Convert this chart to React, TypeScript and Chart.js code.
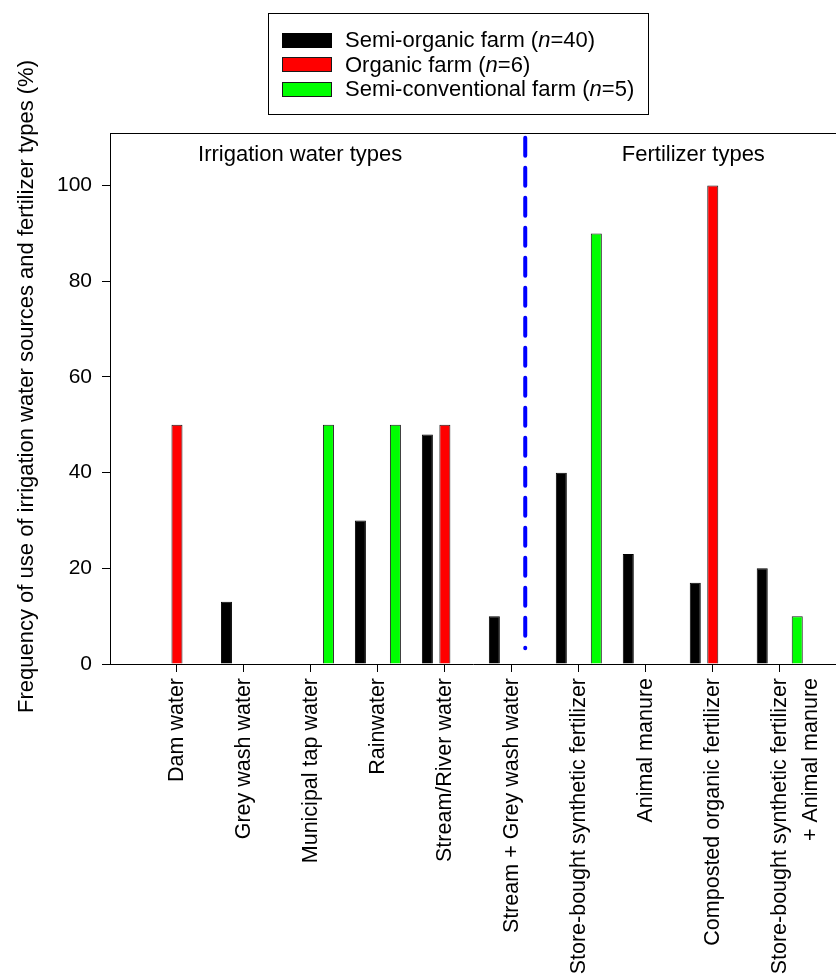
import React, { useEffect, useRef } from "react";
import { Chart, registerables } from "chart.js";

Chart.register(...registerables);

const FONT = "'Liberation Sans', Arial, Helvetica, sans-serif";

const categories: (string | string[])[] = [
  "Dam water",
  "Grey wash water",
  "Municipal tap water",
  "Rainwater",
  "Stream/River water",
  "Stream + Grey wash water",
  "Store-bought synthetic fertilizer",
  "Animal manure",
  "Composted organic fertilizer",
  ["Store-bought synthetic fertilizer", "+ Animal manure"],
];

const seriesNames = ["Semi-organic farm", "Organic farm", "Semi-conventional farm"];
const seriesN = [40, 6, 5];
const seriesColors = ["#000000", "#ff0000", "#00ff00"];
const seriesBorders = ["#000000", "#1a1a1a", "#1a1a1a"];

const semiOrganic = [null, 13, null, 30, 48, 10, 40, 23, 17, 20];
const organic = [50, null, null, null, 50, null, null, null, 100, null];
const semiConventional = [null, null, 50, 50, null, null, 90, null, null, 10];
const seriesValues = [semiOrganic, organic, semiConventional];

const yTicks = [0, 20, 40, 60, 80, 100];
const yMin = 0;
const yMax = 111;
const xMin = -1;
const xMax = 9.84;

const dividerX = 5.2;
const dividerTop = 110;
const dividerBottom = 3.3;

const sectionLabels = [
  { text: "Irrigation water types", x: 1.84, y: 106.4 },
  { text: "Fertilizer types", x: 7.71, y: 106.4 },
];

const yTitle = "Frequency of use of irrigation water sources and fertilizer types (%)";

const overlayPlugin = {
  id: "overlay",
  afterDatasetsDraw(chart: any) {
    const { ctx, chartArea, scales } = chart;
    const x = scales.x;
    const y = scales.y;
    ctx.save();
    // top frame line
    ctx.strokeStyle = "#000";
    ctx.lineWidth = 1;
    ctx.beginPath();
    ctx.moveTo(chartArea.left, chartArea.top + 0.5);
    ctx.lineTo(chartArea.right, chartArea.top + 0.5);
    ctx.stroke();

    // divider
    const dx = x.getPixelForValue(dividerX);
    ctx.strokeStyle = "#0000ff";
    ctx.lineWidth = 4;
    ctx.lineCap = "round";
    ctx.setLineDash([18, 12]);
    ctx.beginPath();
    ctx.moveTo(dx, y.getPixelForValue(dividerTop));
    ctx.lineTo(dx, y.getPixelForValue(dividerBottom));
    ctx.stroke();
    ctx.setLineDash([]);

    // section labels
    ctx.fillStyle = "#000";
    ctx.font = `22px ${FONT}`;
    ctx.textAlign = "center";
    ctx.textBaseline = "middle";
    for (const s of sectionLabels) {
      ctx.fillText(s.text, x.getPixelForValue(s.x), y.getPixelForValue(s.y));
    }

    // y title
    ctx.translate(27, (chartArea.top + chartArea.bottom) / 2 - 12);
    ctx.rotate(-Math.PI / 2);
    ctx.fillText(yTitle, 0, 0);
    ctx.restore();
  },
};

export default function App() {
  const canvasRef = useRef<HTMLCanvasElement | null>(null);

  useEffect(() => {
    const canvas = canvasRef.current;
    if (!canvas) return;
    const chart = new Chart(canvas, {
      type: "bar",
      data: {
        datasets: seriesValues.map((vals, i) => ({
          label: seriesNames[i],
          data: vals.map((v, j) => ({ x: j, y: v })),
          backgroundColor: seriesColors[i],
          borderColor: seriesBorders[i],
          borderWidth: 1,
          categoryPercentage: 0.784,
          barPercentage: 0.63,
        })),
      } as any,
      options: {
        responsive: false,
        animation: false,
        layout: { padding: { top: 133, left: 0, right: 0, bottom: 0 } },
        plugins: {
          legend: { display: false },
          tooltip: { enabled: false },
        },
        scales: {
          x: {
            type: "linear",
            offset: false,
            min: xMin,
            max: xMax,
            afterBuildTicks: (s: any) => {
              s.ticks = categories.map((_, i) => ({ value: i }));
            },
            afterFit: (s: any) => {
              s.height = 315;
              s.paddingLeft = 0;
              s.paddingRight = 0;
            },
            ticks: {
              autoSkip: false,
              minRotation: 90,
              maxRotation: 90,
              padding: 6,
              color: "#000",
              font: { family: FONT, size: 21.5, lineHeight: 1.45 },
              callback: (v: any) => categories[Math.round(v as number)] ?? "",
            },
            grid: {
              offset: false,
              drawOnChartArea: false,
              drawTicks: true,
              tickLength: 8,
              color: "#000",
            },
            border: { display: true, color: "#000", width: 1 },
          },
          y: {
            min: yMin,
            max: yMax,
            afterBuildTicks: (s: any) => {
              s.ticks = yTicks.map((v) => ({ value: v }));
            },
            afterFit: (s: any) => {
              s.width = 110;
              s.paddingTop = 0;
              s.paddingBottom = 0;
            },
            ticks: {
              padding: 10,
              color: "#000",
              font: { family: FONT, size: 21 },
            },
            grid: {
              drawOnChartArea: false,
              drawTicks: true,
              tickLength: 8,
              color: "#000",
            },
            border: { display: true, color: "#000", width: 1 },
          },
        },
      } as any,
      plugins: [overlayPlugin],
    });
    return () => chart.destroy();
  }, []);

  return (
    <div style={{ position: "absolute", left: 0, top: 0, width: 836, height: 979, background: "#fff" }}>
      <canvas ref={canvasRef} width={836} height={979} style={{ position: "absolute", left: 0, top: 0 }} />
      <div
        style={{
          position: "absolute",
          left: 268,
          top: 13,
          width: 381,
          height: 102,
          border: "1px solid #000",
          fontFamily: FONT,
          fontSize: 22,
          color: "#000",
          boxSizing: "border-box",
        }}
      >
        {seriesNames.map((name, i) => (
          <div
            key={name}
            style={{
              position: "absolute",
              left: 13,
              top: 14 + i * 24.5,
              height: 24.5,
              display: "flex",
              alignItems: "center",
              whiteSpace: "nowrap",
            }}
          >
            <span
              style={{
                display: "inline-block",
                width: 50,
                height: 15,
                background: seriesColors[i],
                border: `1px solid ${seriesBorders[i]}`,
                boxSizing: "border-box",
                marginRight: 13,
              }}
            />
            <span>
              {name} (<i>n</i>={seriesN[i]})
            </span>
          </div>
        ))}
      </div>
    </div>
  );
}
